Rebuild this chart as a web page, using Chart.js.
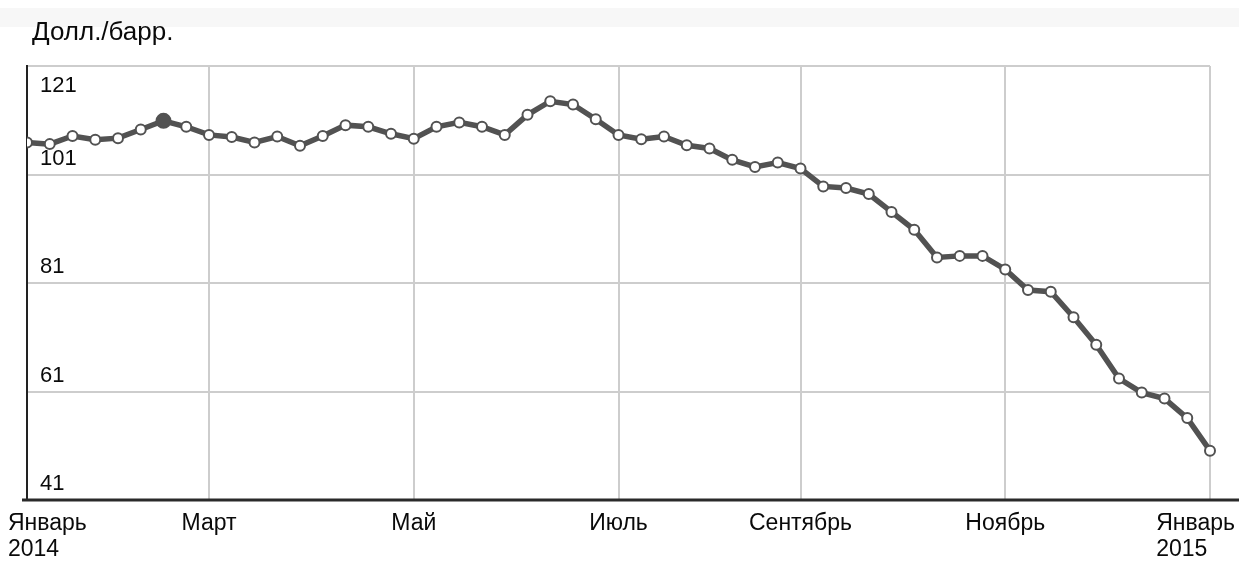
<!DOCTYPE html>
<html lang="ru">
<head>
<meta charset="utf-8">
<title>Долл./барр.</title>
<script src="https://cdn.jsdelivr.net/npm/chart.js@4.4.1/dist/chart.umd.min.js"></script>
<style>
html, body { margin: 0; padding: 0; background: #fff; }
#wrap { position: relative; width: 1239px; height: 562px; }
#band { position: absolute; left: 0; top: 8px; width: 1239px; height: 19px; background: #f7f7f7; }
canvas { position: absolute; left: 0; top: 0; }
</style>
</head>
<body>
<div id="wrap">
  <div id="band"></div>
  <canvas id="oilChart" width="1239" height="562"></canvas>
</div>
<script>
// weekly data points (Wednesdays of 2014)
const weeks = [
  '01.01', '08.01', '15.01', '22.01', '29.01', '05.02', '12.02', '19.02', '26.02',
  '05.03', '12.03', '19.03', '26.03', '02.04', '09.04', '16.04', '23.04', '30.04',
  '07.05', '14.05', '21.05', '28.05', '04.06', '11.06', '18.06', '25.06', '02.07',
  '09.07', '16.07', '23.07', '30.07', '06.08', '13.08', '20.08', '27.08', '03.09',
  '10.09', '17.09', '24.09', '01.10', '08.10', '15.10', '22.10', '29.10', '05.11',
  '12.11', '19.11', '26.11', '03.12', '10.12', '17.12', '24.12', '31.12'
];
const prices = [
  106.9, 106.6, 108.1, 107.4, 107.7, 109.3, 110.9, 109.8, 108.3,
  107.9, 106.9, 108.0, 106.3, 108.1, 110.1, 109.8, 108.5, 107.6,
  109.8, 110.6, 109.8, 108.3, 112.0, 114.5, 113.9, 111.2, 108.3,
  107.5, 108.0, 106.4, 105.8, 103.7, 102.4, 103.2, 102.1, 98.8,
  98.5, 97.4, 94.1, 90.8, 85.7, 86.0, 86.0, 83.5, 79.7,
  79.4, 74.7, 69.6, 63.4, 60.8, 59.7, 56.1, 50.1
];
const highlightIdx = 6;

// axis labels
const monthIdx = [0, 8, 17, 26, 34, 43, 52];
const monthNames = [['Январь', '2014'], ['Март'], ['Май'], ['Июль'], ['Сентябрь'], ['Ноябрь'], ['Январь', '2015']];
const yTicks = [41, 61, 81, 101, 121];
const unitTitle = 'Долл./барр.';

const FAMILY = '"Liberation Sans", Arial, sans-serif';
const LINE_COLOR = '#525252';
const GRID_COLOR = '#cdcdcd';

// draws title, tick labels and the bottom axis line
const axisText = {
  id: 'axisText',
  beforeDatasetsDraw(chart) {
    const ctx = chart.ctx;
    const area = chart.chartArea;
    ctx.save();
    ctx.strokeStyle = '#2a2a2a';
    ctx.lineWidth = 3;
    ctx.beginPath();
    ctx.moveTo(area.left - 5, area.bottom);
    ctx.lineTo(chart.width, area.bottom);
    ctx.stroke();
    ctx.restore();
  },
  afterDraw(chart) {
    const ctx = chart.ctx;
    const area = chart.chartArea;
    const yScale = chart.scales.y;
    const xScale = chart.scales.x;
    ctx.save();
    ctx.fillStyle = '#0a0a0a';

    ctx.font = '26px ' + FAMILY;
    ctx.textAlign = 'left';
    ctx.textBaseline = 'alphabetic';
    ctx.fillText(unitTitle, area.left + 5, 40);

    ctx.font = '22px ' + FAMILY;
    ctx.textBaseline = 'middle';
    yTicks.forEach(v => {
      const py = yScale.getPixelForValue(v);
      const off = v === yScale.max ? 20 : -16;
      ctx.fillText(String(v), area.left + 13, py + off);
    });

    ctx.font = '23px ' + FAMILY;
    monthIdx.forEach((idx, k) => {
      const px = xScale.getPixelForValue(idx);
      const lines = monthNames[k];
      const w = Math.max(...lines.map(s => ctx.measureText(s).width));
      let left = px - w / 2;
      left = Math.max(8, Math.min(left, chart.width - 4 - w));
      lines.forEach((s, j) => {
        ctx.fillText(s, left, area.bottom + 24 + j * 26);
      });
    });
    ctx.restore();
  }
};

const ctx = document.getElementById('oilChart').getContext('2d');
new Chart(ctx, {
  type: 'line',
  data: {
    labels: weeks,
    datasets: [{
      data: prices,
      borderColor: LINE_COLOR,
      borderWidth: 5.5,
      tension: 0,
      pointRadius: prices.map((_, i) => i === highlightIdx ? 7 : 5),
      pointBackgroundColor: prices.map((_, i) => i === highlightIdx ? LINE_COLOR : '#ffffff'),
      pointBorderColor: LINE_COLOR,
      pointBorderWidth: 2,
      clip: { left: 0, right: 10, top: 10, bottom: 10 }
    }]
  },
  options: {
    responsive: false,
    animation: false,
    layout: { padding: { left: 27, right: 29, top: 66, bottom: 62 } },
    plugins: {
      legend: { display: false },
      tooltip: { enabled: false }
    },
    scales: {
      x: {
        ticks: { display: false },
        grid: {
          drawTicks: false,
          lineWidth: 2,
          color: c => monthIdx.includes(c.index) ? GRID_COLOR : 'rgba(0,0,0,0)'
        },
        border: { display: false }
      },
      y: {
        min: 41,
        max: 121,
        afterBuildTicks: scale => { scale.ticks = yTicks.map(v => ({ value: v })); },
        ticks: { display: false },
        grid: { drawTicks: false, lineWidth: 2, color: GRID_COLOR },
        border: { color: '#222', width: 2 }
      }
    }
  },
  plugins: [axisText]
});
</script>
</body>
</html>
